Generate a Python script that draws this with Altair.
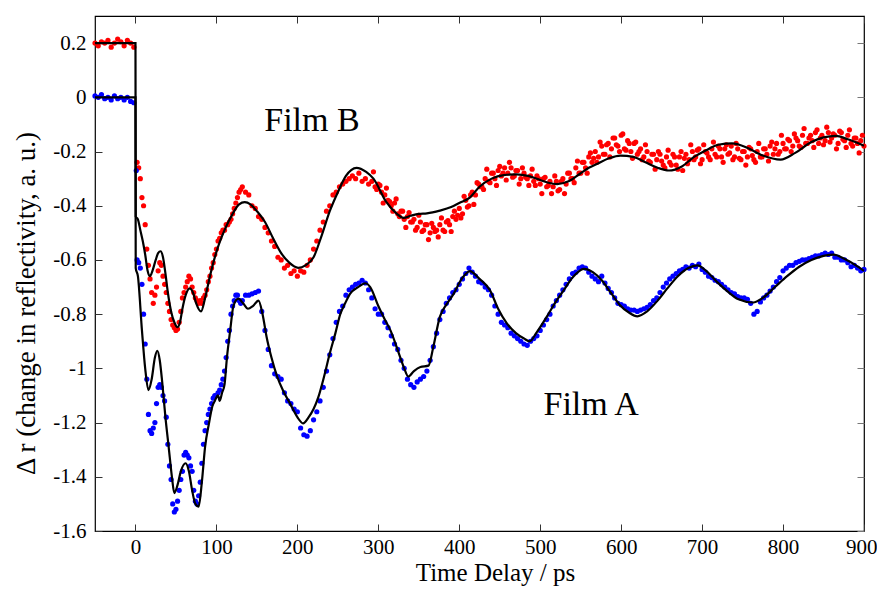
import altair as alt
import pandas as pd

FONT = "Liberation Serif, Times New Roman, DejaVu Serif, serif"

# ---------------- measured points: Film B (red) ----------------
b_pre_t = [-50, -46, -42, -38, -34, -30, -26, -22, -18, -14, -10, -6, -2]
b_pre_v = [0.20, 0.19, 0.205, 0.20, 0.21, 0.185, 0.20, 0.215, 0.205, 0.19, 0.21, 0.20, 0.185]

b_early_t = list(range(2, 131, 2))
b_early_v = [-0.24, -0.26, -0.30, -0.37, -0.40, -0.47, -0.56, -0.62, -0.67, -0.72,
             -0.76, -0.73, -0.70, -0.64, -0.61, -0.62, -0.66, -0.69, -0.72, -0.76,
             -0.79, -0.82, -0.84, -0.85, -0.86, -0.855, -0.83, -0.79, -0.74, -0.72,
             -0.70, -0.68, -0.66, -0.67, -0.70, -0.72, -0.74, -0.75, -0.76, -0.75,
             -0.76, -0.74, -0.73, -0.71, -0.68, -0.66, -0.63, -0.61, -0.58, -0.56,
             -0.53, -0.52, -0.50, -0.49, -0.49, -0.47, -0.47, -0.46, -0.45, -0.43,
             -0.41, -0.39, -0.37, -0.35, -0.34]

b_late_t = list(range(132, 901, 4))
b_late_v = [-0.33, -0.35, -0.36, -0.40, -0.41, -0.44, -0.45, -0.48, -0.50, -0.53,
            -0.55, -0.59, -0.60, -0.63, -0.62, -0.65, -0.64, -0.66, -0.64, -0.645,
            -0.62, -0.60, -0.56, -0.53, -0.49, -0.46, -0.42, -0.40, -0.36, -0.35,
            -0.33, -0.32, -0.31, -0.30, -0.29, -0.30, -0.28, -0.31, -0.30, -0.32,
            -0.31, -0.33, -0.32, -0.35, -0.36, -0.38, -0.40, -0.39, -0.43, -0.42,
            -0.45, -0.44, -0.46, -0.45, -0.48, -0.46, -0.49, -0.47, -0.50, -0.48,
            -0.49, -0.47, -0.49, -0.46, -0.47, -0.44, -0.45, -0.41, -0.43, -0.38,
            -0.40, -0.35, -0.36, -0.32, -0.33, -0.30, -0.31, -0.28, -0.30, -0.27,
            -0.29, -0.26, -0.28, -0.26, -0.29, -0.27, -0.30, -0.28, -0.30, -0.29,
            -0.31, -0.29, -0.32, -0.30, -0.33, -0.31, -0.33, -0.31, -0.34, -0.30,
            -0.32, -0.28, -0.30, -0.26, -0.28, -0.24, -0.26, -0.22, -0.24, -0.20,
            -0.22, -0.18, -0.21, -0.17, -0.19, -0.15, -0.18, -0.14, -0.19, -0.16,
            -0.20, -0.17, -0.21, -0.19, -0.22, -0.20, -0.24, -0.21, -0.23, -0.21,
            -0.25, -0.22, -0.24, -0.21, -0.25, -0.22, -0.27, -0.21, -0.23, -0.20,
            -0.22, -0.19, -0.23, -0.20, -0.22, -0.19, -0.21, -0.18, -0.22, -0.19,
            -0.21, -0.18, -0.22, -0.19, -0.23, -0.20, -0.22, -0.19, -0.23, -0.20,
            -0.22, -0.19, -0.21, -0.18, -0.21, -0.17, -0.20, -0.17, -0.19, -0.16,
            -0.18, -0.15, -0.18, -0.14, -0.17, -0.15, -0.16, -0.13, -0.17, -0.14,
            -0.16, -0.13, -0.15, -0.14, -0.17, -0.13, -0.16, -0.14, -0.17, -0.15,
            -0.17, -0.16, -0.18]

# second interleaved set of Film B samples (the noisy band after ~290 ps)
b_band_t = list(range(294, 899, 4))
b_band_v = [-0.275, -0.34, -0.325, -0.39, -0.335, -0.385, -0.42, -0.375, -0.44, -0.42,
            -0.48, -0.425, -0.46, -0.49, -0.435, -0.495, -0.47, -0.525, -0.465, -0.495,
            -0.515, -0.445, -0.495, -0.455, -0.495, -0.42, -0.435, -0.445, -0.365, -0.405,
            -0.36, -0.395, -0.315, -0.33, -0.34, -0.265, -0.315, -0.28, -0.325, -0.255,
            -0.28, -0.305, -0.24, -0.295, -0.27, -0.32, -0.26, -0.295, -0.325, -0.265,
            -0.325, -0.30, -0.355, -0.295, -0.325, -0.355, -0.29, -0.345, -0.31, -0.355,
            -0.28, -0.30, -0.315, -0.235, -0.28, -0.24, -0.28, -0.205, -0.225, -0.24,
            -0.165, -0.21, -0.175, -0.22, -0.15, -0.175, -0.20, -0.135, -0.195, -0.17,
            -0.225, -0.165, -0.20, -0.23, -0.175, -0.235, -0.21, -0.265, -0.20, -0.235,
            -0.26, -0.195, -0.25, -0.22, -0.265, -0.20, -0.225, -0.245, -0.175, -0.23,
            -0.195, -0.245, -0.175, -0.205, -0.23, -0.165, -0.22, -0.19, -0.24, -0.175,
            -0.205, -0.23, -0.17, -0.225, -0.20, -0.25, -0.185, -0.215, -0.24, -0.17,
            -0.22, -0.19, -0.235, -0.165, -0.19, -0.21, -0.14, -0.19, -0.155, -0.20,
            -0.135, -0.16, -0.185, -0.115, -0.17, -0.14, -0.185, -0.12, -0.15, -0.175,
            -0.11, -0.165, -0.135, -0.19, -0.125, -0.155, -0.185, -0.12, -0.18, -0.15,
            -0.205, -0.14]

# ---------------- measured points: Film A (blue) ----------------
a_pre_t = [-50, -46, -42, -38, -34, -30, -26, -22, -18, -14, -10, -6, -2]
a_pre_v = [0.005, 0.0, 0.01, -0.005, 0.0, -0.01, 0.005, -0.005, 0.0, -0.01, 0.0, -0.015, -0.02]

a_early_t = [1] + list(range(2, 131, 2))
a_early_v = [-0.27,
             -0.60, -0.61, -0.63, -0.69, -0.80, -0.91, -1.04, -1.17, -1.23, -1.24,
             -1.22, -1.20, -1.13, -1.07, -1.06, -1.07, -1.10, -1.12, -1.18, -1.28,
             -1.36, -1.41, -1.50, -1.53, -1.52, -1.49, -1.45, -1.41, -1.38, -1.32,
             -1.31, -1.32, -1.33, -1.36, -1.38, -1.45, -1.49, -1.50, -1.47, -1.42,
             -1.35, -1.28, -1.23, -1.20, -1.17, -1.15, -1.13, -1.11, -1.10, -1.10,
             -1.09, -1.08, -1.06, -1.04, -1.01, -0.96, -0.90, -0.86, -0.80, -0.77,
             -0.75, -0.73, -0.73, -0.75, -0.76]

a_late_t = list(range(132, 901, 4))
a_late_v = [-0.75, -0.73, -0.73, -0.725, -0.72, -0.715, -0.79, -0.86, -0.93, -0.99,
            -1.02, -1.03, -1.04, -1.09, -1.12, -1.13, -1.15, -1.16, -1.22, -1.245,
            -1.25, -1.23, -1.19, -1.16, -1.12, -1.07, -1.01, -0.95, -0.89, -0.83,
            -0.79, -0.77, -0.73, -0.71, -0.70, -0.69, -0.685, -0.675, -0.685, -0.71,
            -0.74, -0.78, -0.80, -0.80, -0.83, -0.85, -0.88, -0.91, -0.93, -0.97,
            -1.00, -1.04, -1.06, -1.07, -1.05, -1.04, -1.03, -1.01, -0.97, -0.92,
            -0.87, -0.82, -0.79, -0.76, -0.74, -0.72, -0.71, -0.69, -0.67, -0.65,
            -0.63, -0.645, -0.66, -0.68, -0.685, -0.70, -0.71, -0.73, -0.77, -0.80,
            -0.83, -0.84, -0.85, -0.87, -0.88, -0.89, -0.90, -0.91, -0.915, -0.90,
            -0.89, -0.88, -0.86, -0.84, -0.82, -0.80, -0.77, -0.75, -0.73, -0.71,
            -0.69, -0.67, -0.65, -0.645, -0.63, -0.625, -0.63, -0.645, -0.66, -0.67,
            -0.68, -0.66, -0.685, -0.705, -0.72, -0.74, -0.76, -0.765, -0.77, -0.78,
            -0.785, -0.785, -0.79, -0.785, -0.78, -0.775, -0.765, -0.75, -0.74, -0.72,
            -0.70, -0.685, -0.67, -0.66, -0.65, -0.64, -0.635, -0.625, -0.63, -0.62,
            -0.625, -0.615, -0.635, -0.645, -0.66, -0.665, -0.675, -0.68, -0.69, -0.70,
            -0.71, -0.72, -0.725, -0.735, -0.74, -0.74, -0.745, -0.76, -0.80, -0.79,
            -0.755, -0.74, -0.73, -0.715, -0.70, -0.68, -0.665, -0.64, -0.63, -0.62,
            -0.62, -0.61, -0.605, -0.60, -0.60, -0.595, -0.59, -0.585, -0.585, -0.58,
            -0.575, -0.58, -0.575, -0.59, -0.59, -0.60, -0.60, -0.61, -0.625, -0.62,
            -0.63, -0.64, -0.635]

# ---------------- fitted curves (black) ----------------
fitB_t = [-50, 0, 0.3, 3, 6, 9, 12, 15, 18, 21, 25, 28, 31, 34, 37, 40, 44, 48, 52, 55,
          58, 62, 67, 71, 75, 81, 86, 92, 100, 110, 120, 128, 135, 142, 150, 160, 170,
          180, 190, 201, 210, 220, 230, 240, 250, 260, 273, 285, 294, 310, 323, 331, 340,
          350, 360, 376, 390, 400, 413, 425, 440, 455, 471, 485, 500, 510, 521, 535, 550,
          560, 570, 585, 599, 615, 630, 645, 659, 675, 690, 705, 720, 737, 755, 775, 797,
          815, 835, 850, 865, 880, 900]
fitB_v = [0.2, 0.2, -0.44, -0.45, -0.49, -0.53, -0.58, -0.64, -0.66, -0.64, -0.60, -0.575,
          -0.568, -0.59, -0.65, -0.72, -0.79, -0.83, -0.848, -0.83, -0.78, -0.73, -0.705,
          -0.72, -0.76, -0.79, -0.74, -0.66, -0.57, -0.49, -0.43, -0.395, -0.387, -0.395,
          -0.42, -0.46, -0.52, -0.575, -0.61, -0.629, -0.62, -0.59, -0.51, -0.42, -0.35,
          -0.29, -0.26, -0.275, -0.30, -0.387, -0.43, -0.445, -0.437, -0.43, -0.428,
          -0.418, -0.405, -0.39, -0.37, -0.33, -0.30, -0.287, -0.284, -0.29, -0.305,
          -0.315, -0.32, -0.31, -0.28, -0.26, -0.246, -0.225, -0.215, -0.22, -0.24,
          -0.26, -0.27, -0.255, -0.22, -0.195, -0.175, -0.17, -0.185, -0.215, -0.23,
          -0.205, -0.165, -0.148, -0.142, -0.155, -0.179]

fitA_t = [-50, 0, 0.3, 3, 8, 12, 16, 20, 24, 27, 30, 33, 37, 41, 45, 48, 52, 56, 62, 66,
          70, 74, 78, 82, 86, 91, 95, 98, 102, 104, 107, 110, 113, 117, 121, 127, 133, 139,
          145, 152, 157, 162, 168, 175, 182, 191, 200, 207, 214, 220, 226, 233, 240, 247,
          253, 259, 265, 275, 284, 290, 300, 308, 315, 326, 332, 337, 344, 352, 362, 368,
          376, 384, 393, 403, 413, 425, 438, 448, 459, 470, 480, 487, 495, 508, 518, 529,
          540, 554, 565, 576, 587, 598, 610, 620, 632, 645, 657, 670, 683, 694, 705, 718,
          731, 745, 763, 775, 790, 805, 820, 835, 850, 863, 875, 890, 900]
fitA_v = [0.0, 0.0, -0.63, -0.66, -0.86, -1.0, -1.08, -1.04, -0.96, -0.935, -0.97, -1.05,
          -1.18, -1.29, -1.40, -1.46, -1.43, -1.38, -1.35, -1.38, -1.45, -1.50, -1.51,
          -1.42, -1.29, -1.20, -1.14, -1.12, -1.10, -1.12, -1.09, -1.06, -0.96, -0.86,
          -0.77, -0.743, -0.76, -0.78, -0.77, -0.75, -0.80, -0.884, -0.96, -1.03, -1.08,
          -1.13, -1.18, -1.203, -1.18, -1.15, -1.105, -1.03, -0.945, -0.87, -0.80, -0.76,
          -0.725, -0.70, -0.686, -0.70, -0.77, -0.82, -0.86, -0.95, -1.00, -1.03, -1.01,
          -0.995, -0.99, -0.92, -0.81, -0.765, -0.725, -0.67, -0.641, -0.67, -0.712,
          -0.78, -0.835, -0.87, -0.89, -0.90, -0.87, -0.81, -0.76, -0.712, -0.665, -0.633,
          -0.645, -0.675, -0.72, -0.765, -0.795, -0.808, -0.79, -0.75, -0.705, -0.66,
          -0.63, -0.62, -0.64, -0.68, -0.715, -0.745, -0.757, -0.74, -0.70, -0.66, -0.625,
          -0.60, -0.585, -0.58, -0.595, -0.62, -0.64]

# ---------------- annotations & ticks ----------------
label_text = ["Film B", "Film A"]
label_t = [218, 563]
label_v = [-0.087, -1.136]

x_ticks = [0, 100, 200, 300, 400, 500, 600, 700, 800, 900]
y_ticks = [-1.6, -1.4, -1.2, -1.0, -0.8, -0.6, -0.4, -0.2, 0, 0.2]

# ---------------- tables ----------------
pts = pd.concat([
    pd.DataFrame({"t": b_pre_t + b_early_t + b_late_t + b_band_t,
                  "v": b_pre_v + b_early_v + b_late_v + b_band_v, "film": "B"}),
    pd.DataFrame({"t": a_pre_t + a_early_t + a_late_t,
                  "v": a_pre_v + a_early_v + a_late_v, "film": "A"}),
], ignore_index=True)

fits = pd.concat([
    pd.DataFrame({"t": fitB_t, "v": fitB_v, "film": "B", "i": range(len(fitB_t))}),
    pd.DataFrame({"t": fitA_t, "v": fitA_v, "film": "A", "i": range(len(fitA_t))}),
], ignore_index=True)

labels = pd.DataFrame({"t": label_t, "v": label_v, "text": label_text})

xs = alt.Scale(domain=[-50, 900], nice=False, zero=False)
ys = alt.Scale(domain=[-1.6, 0.3], nice=False, zero=False)

common_axis = dict(grid=False, domain=False, offset=-7, tickSize=7, tickColor="#333333",
                   tickWidth=1, labelFont=FONT, labelFontSize=21, labelColor="black",
                   labelOverlap=False, labelExpr="'' + datum.value",
                   titleFont=FONT, titleFontWeight="normal", titleColor="black")

x_bottom = alt.Axis(orient="bottom", values=x_ticks, labelPadding=5,
                    labelFlush=True, labelFlushOffset=13,
                    title="Time Delay / ps", titlePadding=3, titleFontSize=25,
                    titleX=400, **common_axis)
y_left = alt.Axis(orient="left", values=y_ticks, labelPadding=9, labelFlush=False,
                  title="Δ r (change in reflectivity, a. u.)", titlePadding=12,
                  titleFontSize=27, titleY=287, **common_axis)
x_top = alt.Axis(orient="top", values=x_ticks, labels=False, title=None,
                 grid=False, domain=False, offset=-7, tickSize=7, tickColor="#333333")
y_right = alt.Axis(orient="right", values=y_ticks, labels=False, title=None,
                   grid=False, domain=False, offset=-7, tickSize=7, tickColor="#777777")

points = alt.Chart(pts).mark_circle(size=27, opacity=1).encode(
    x=alt.X("t:Q", scale=xs, axis=x_bottom),
    y=alt.Y("v:Q", scale=ys, axis=y_left),
    color=alt.Color("film:N", scale=alt.Scale(domain=["A", "B"], range=["#0000ff", "#ff0000"]),
                    legend=None),
)

lines = alt.Chart(fits).mark_line(color="black", strokeWidth=2.2,
                                  interpolate="monotone").encode(
    x=alt.X("t:Q", scale=xs, axis=x_top),
    y=alt.Y("v:Q", scale=ys, axis=y_right),
    detail="film:N",
    order="i:Q",
)

texts = alt.Chart(labels).mark_text(font=FONT, fontSize=34, color="black",
                                     align="center", baseline="middle").encode(
    x=alt.X("t:Q", scale=xs, axis=None),
    y=alt.Y("v:Q", scale=ys, axis=None),
    text="text:N",
)

chart = alt.layer(points, lines, texts).resolve_axis(
    x="independent", y="independent"
).properties(
    width=769, height=515,
    autosize=alt.AutoSizeParams(type="none"),
    padding={"left": 87, "top": 8, "right": 13, "bottom": 56},
    background="white",
).configure_view(stroke="black", strokeWidth=1.2)

chart.save("out.html", embed_options={"renderer": "svg", "actions": False})
